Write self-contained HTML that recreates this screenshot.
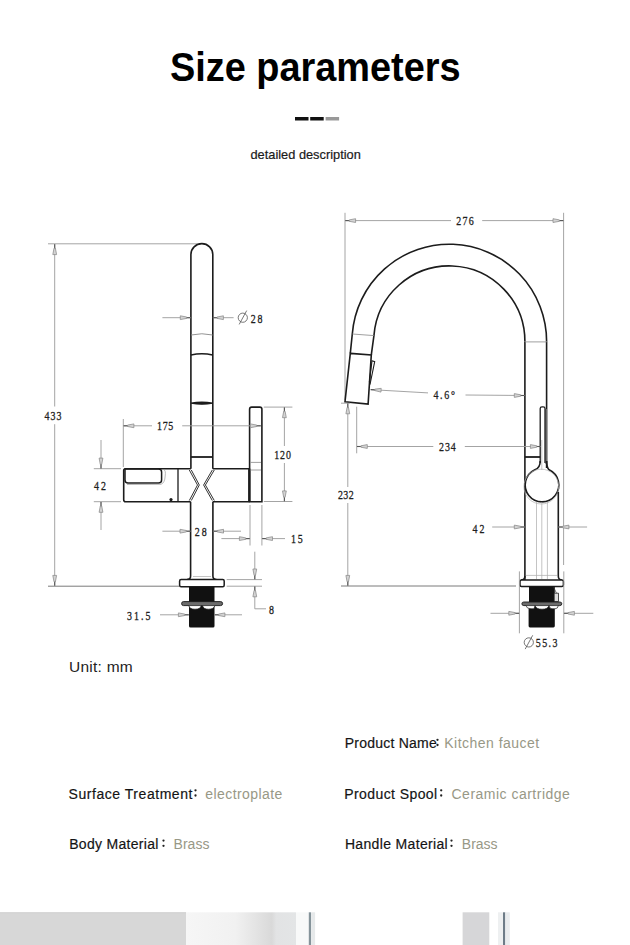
<!DOCTYPE html>
<html><head><meta charset="utf-8">
<style>
html,body{margin:0;padding:0;background:#fff;}
body{width:630px;height:945px;position:relative;overflow:hidden;font-family:"Liberation Sans",sans-serif;}
.t{position:absolute;white-space:nowrap;line-height:1;}
#title{left:170px;top:46.7px;font-size:40px;font-weight:bold;color:#000;transform:scaleX(0.947);transform-origin:0 0;}
#desc{left:250.5px;top:149px;font-size:12.8px;color:#1a1a1a;-webkit-text-stroke:0.2px #1a1a1a;}
#unit{left:69px;top:658.6px;font-size:15.5px;color:#222;letter-spacing:0.25px;}
.lab{font-size:14px;color:#141414;-webkit-text-stroke:0.18px #141414;}
.val{font-size:14px;color:#989886;}
svg{position:absolute;left:0;top:0;}
</style></head><body>
<div class="t" id="title">Size parameters</div>
<div class="t" id="desc">detailed description</div>
<div class="t" id="unit">Unit: mm</div>
<div class="t lab" style="left:344.7px;top:735.6px;letter-spacing:0.23px">Product Name</div>
<div class="t val" style="left:444.3px;top:735.6px;letter-spacing:0.47px">Kitchen faucet</div>
<div class="t lab" style="left:68.6px;top:786.8px;letter-spacing:0.54px">Surface Treatment</div>
<div class="t val" style="left:205.3px;top:786.8px;letter-spacing:0.42px">electroplate</div>
<div class="t lab" style="left:344.3px;top:786.8px;letter-spacing:0.41px">Product Spool</div>
<div class="t val" style="left:451.5px;top:786.8px;letter-spacing:0.49px">Ceramic cartridge</div>
<div class="t lab" style="left:69.2px;top:836.9px;letter-spacing:0.3px">Body Material</div>
<div class="t val" style="left:173.6px;top:836.9px;">Brass</div>
<div class="t lab" style="left:344.9px;top:836.9px;letter-spacing:0.34px">Handle Material</div>
<div class="t val" style="left:461.8px;top:836.9px;">Brass</div>
<svg width="630" height="945" viewBox="0 0 630 945">
<g fill="#222">
<circle cx="437.5" cy="739.8" r="1.15"/><circle cx="437.5" cy="745" r="1.15"/>
<circle cx="195.5" cy="790.3" r="1.15"/><circle cx="195.5" cy="795.5" r="1.15"/>
<circle cx="441.2" cy="790.3" r="1.15"/><circle cx="441.2" cy="795.5" r="1.15"/>
<circle cx="163.5" cy="840.6" r="1.15"/><circle cx="163.5" cy="845.8" r="1.15"/>
<circle cx="451.5" cy="840.6" r="1.15"/><circle cx="451.5" cy="845.8" r="1.15"/>
</g>
<rect x="295" y="117" width="13.5" height="3.5" fill="#111"/>
<rect x="310.2" y="117" width="13.5" height="3.5" fill="#111"/>
<rect x="325.6" y="117" width="13.5" height="3.5" fill="#999"/>
<defs>
<linearGradient id="g1" x1="0" x2="1" y1="0" y2="0">
<stop offset="0" stop-color="#f6f6f6"/><stop offset="0.45" stop-color="#f1f1f1"/><stop offset="0.78" stop-color="#d9d9d9"/><stop offset="0.82" stop-color="#e2e3e4"/><stop offset="1" stop-color="#e3e5e6"/>
</linearGradient>
</defs>
<rect x="0" y="912.3" width="186" height="33" fill="#d7d7d7"/>
<rect x="0" y="912.3" width="186" height="1" fill="#d2d2d2"/>
<rect x="186" y="912.3" width="110" height="33" fill="url(#g1)"/>
<rect x="296" y="912.3" width="13" height="33" fill="#f8f9f9"/>
<rect x="308.8" y="912.3" width="2.2" height="33" fill="#85939a"/>
<rect x="311.1" y="912.3" width="4" height="33" fill="#e6e9ea"/>
<rect x="462.6" y="912.3" width="26.7" height="33" fill="#d6d6d8"/>
<rect x="498" y="912.3" width="5" height="33" fill="#eef0f1"/>
<rect x="503" y="912.3" width="2.3" height="33" fill="#6e7c88"/>
<rect x="505.3" y="912.3" width="4.5" height="33" fill="#e9ecee"/>
<line x1="48" y1="243.8" x2="197" y2="243.8" stroke="#9a9a9a" stroke-width="0.9" />
<line x1="54.7" y1="244" x2="54.7" y2="406.5" stroke="#9a9a9a" stroke-width="0.9" />
<line x1="54.7" y1="424.2" x2="54.7" y2="586" stroke="#9a9a9a" stroke-width="0.9" />
<g transform="translate(54.7,244) rotate(-90)"><path d="M-0.3,0 L-5,0" stroke="#555" stroke-width="1.1"/><path d="M-4.2,-0.7 L-10.6,-1.9 L-10.6,1.9 L-4.2,0.7 Z" fill="#d4d4d4" stroke="#8a8a8a" stroke-width="0.75"/></g>
<g transform="translate(54.7,586) rotate(90)"><path d="M-0.3,0 L-5,0" stroke="#555" stroke-width="1.1"/><path d="M-4.2,-0.7 L-10.6,-1.9 L-10.6,1.9 L-4.2,0.7 Z" fill="#d4d4d4" stroke="#8a8a8a" stroke-width="0.75"/></g>
<line x1="48" y1="586.2" x2="179" y2="586.2" stroke="#7a7a7a" stroke-width="1" />
<g transform="translate(44.4,419.9) scale(0.8,1)"><text x="0" y="0" font-family="Liberation Serif" font-size="12.4" fill="#1e1e1e" stroke="#1e1e1e" stroke-width="0.3" textLength="21.25" lengthAdjust="spacing">433</text></g>
<path d="M190.9,468.7 L190.9,254.6 A10.95,10.95 0 0 1 212.8,254.6 L212.8,468.7" fill="none" stroke="#1c1c1c" stroke-width="1.6"/>
<path d="M191,335 Q201.85,332.5 212.7,335" fill="none" stroke="#888" stroke-width="0.9"/>
<path d="M191,355 Q201.85,352.6 212.7,355" fill="none" stroke="#1c1c1c" stroke-width="1.6"/>
<path d="M191,403.2 Q201.85,401.3 212.7,403.2 Q201.85,405.2 191,403.2 Z" fill="#1c1c1c" stroke="#1c1c1c" stroke-width="1.3"/>
<line x1="190.9" y1="457" x2="212.8" y2="457" stroke="#1c1c1c" stroke-width="1.8" />
<path d="M190.9,468.7 L125.5,468.7 Q123.7,468.7 123.7,470.5 L123.7,499.7 Q123.7,501.7 125.7,501.7 L190.7,501.7" fill="none" stroke="#1c1c1c" stroke-width="1.6"/>
<path d="M212.8,468.7 L249.6,468.7 M212.8,501.7 L249.6,501.7" fill="none" stroke="#1c1c1c" stroke-width="1.6"/>
<path d="M125,469 L158.5,469 Q161.6,469 161.6,472 L161.6,480 Q161.6,483 158.5,483 L128,483 Q125,483 125,480 Z" fill="none" stroke="#1c1c1c" stroke-width="1.5"/>
<path d="M163.5,469.5 Q166,470 165.2,476 Q164.8,483 161,484.3 L127,484.5" fill="none" stroke="#999" stroke-width="0.7"/>
<line x1="178" y1="468.7" x2="178" y2="501.7" stroke="#1c1c1c" stroke-width="1.3" />
<circle cx="171" cy="499.6" r="1.6" fill="#1c1c1c"/>
<path d="M189.3,470 L197.5,485 L189.3,500.5 M191.3,470 L199.3,485 L191.3,500.5" fill="none" stroke="#333" stroke-width="1"/>
<path d="M214.3,470 L205.4,485 L214.3,500.5 M212.3,470 L203.6,485 L212.3,500.5" fill="none" stroke="#333" stroke-width="1"/>
<path d="M190.6,501.7 L190.6,576 Q190.6,579.6 187,579.6 M212.9,501.7 L212.9,576 Q212.9,579.6 216.5,579.6" fill="none" stroke="#1c1c1c" stroke-width="1.6"/>
<line x1="193" y1="576.5" x2="211" y2="576.5" stroke="#aaa" stroke-width="0.7" />
<rect x="179.6" y="579.6" width="44.6" height="7.1" rx="1.5" fill="#fff" stroke="#1c1c1c" stroke-width="1.5"/>
<path d="M189,587 L214.5,587 L214.5,626 Q214.5,627.5 213,627.5 L190.5,627.5 Q189,627.5 189,626 Z" fill="#111"/>
<path d="M183.5,601.6 L220.6,601.6 Q222.6,601.6 222.6,603.6 Q222.6,605.6 220.6,605.6 L183.5,605.6 Q181.6,605.6 181.6,603.6 Q181.6,601.6 183.5,601.6 Z" fill="#6c6c6c" stroke="#1a1a1a" stroke-width="0.9" stroke-linejoin="round"/>
<path d="M188.8,605.6 Q189.5,609.2 195,609.2 Q200.5,609.2 201.3,605.6 Z M202.5,605.6 Q203.3,609.2 208.5,609.2 Q214,609.2 214.8,605.6 Z" fill="#fff" stroke="#222" stroke-width="0.7"/>
<path d="M249.6,501.7 L249.6,409.2 Q249.6,407.1 251.7,407.1 L259.8,407.1 Q261.9,407.1 261.9,409.2 L261.9,501.7 Z" fill="none" stroke="#1c1c1c" stroke-width="1.6"/>
<line x1="249.3" y1="468.7" x2="249.3" y2="501.7" stroke="#1c1c1c" stroke-width="2.4" />
<line x1="250.5" y1="462.4" x2="261" y2="462.4" stroke="#888" stroke-width="0.8" />
<line x1="250.5" y1="470" x2="261" y2="470" stroke="#888" stroke-width="0.8" />
<line x1="123.3" y1="419" x2="123.3" y2="467" stroke="#9a9a9a" stroke-width="0.9" />
<line x1="123.3" y1="425.8" x2="152" y2="425.8" stroke="#9a9a9a" stroke-width="0.9" />
<line x1="182.2" y1="425.8" x2="261" y2="425.8" stroke="#9a9a9a" stroke-width="0.9" />
<g transform="translate(123.3,425.8) rotate(180)"><path d="M-0.3,0 L-5,0" stroke="#555" stroke-width="1.1"/><path d="M-4.2,-0.7 L-10.6,-1.9 L-10.6,1.9 L-4.2,0.7 Z" fill="#d4d4d4" stroke="#8a8a8a" stroke-width="0.75"/></g>
<g transform="translate(261,425.8) rotate(0)"><path d="M-0.3,0 L-5,0" stroke="#555" stroke-width="1.1"/><path d="M-4.2,-0.7 L-10.6,-1.9 L-10.6,1.9 L-4.2,0.7 Z" fill="#d4d4d4" stroke="#8a8a8a" stroke-width="0.75"/></g>
<g transform="translate(157.1,430.3) scale(0.8,1)"><text x="0" y="0" font-family="Liberation Serif" font-size="12.4" fill="#1e1e1e" stroke="#1e1e1e" stroke-width="0.3" textLength="20.13" lengthAdjust="spacing">175</text></g>
<line x1="93.8" y1="468.7" x2="121" y2="468.7" stroke="#9a9a9a" stroke-width="0.9" />
<line x1="93.8" y1="501.7" x2="121" y2="501.7" stroke="#9a9a9a" stroke-width="0.9" />
<line x1="101" y1="440" x2="101" y2="468.7" stroke="#9a9a9a" stroke-width="0.9" />
<line x1="101" y1="501.7" x2="101" y2="530" stroke="#9a9a9a" stroke-width="0.9" />
<g transform="translate(101,468.7) rotate(90)"><path d="M-0.3,0 L-5,0" stroke="#555" stroke-width="1.1"/><path d="M-4.2,-0.7 L-10.6,-1.9 L-10.6,1.9 L-4.2,0.7 Z" fill="#d4d4d4" stroke="#8a8a8a" stroke-width="0.75"/></g>
<g transform="translate(101,501.7) rotate(-90)"><path d="M-0.3,0 L-5,0" stroke="#555" stroke-width="1.1"/><path d="M-4.2,-0.7 L-10.6,-1.9 L-10.6,1.9 L-4.2,0.7 Z" fill="#d4d4d4" stroke="#8a8a8a" stroke-width="0.75"/></g>
<g transform="translate(94.1,489.5) scale(0.8,1)"><text x="0" y="0" font-family="Liberation Serif" font-size="12.4" fill="#1e1e1e" stroke="#1e1e1e" stroke-width="0.3" textLength="14.75" lengthAdjust="spacing">42</text></g>
<line x1="263.8" y1="407.1" x2="292.4" y2="407.1" stroke="#9a9a9a" stroke-width="0.9" />
<line x1="263.8" y1="501.5" x2="292.4" y2="501.5" stroke="#9a9a9a" stroke-width="0.9" />
<line x1="284.4" y1="407.1" x2="284.4" y2="446" stroke="#9a9a9a" stroke-width="0.9" />
<line x1="284.4" y1="463" x2="284.4" y2="501.5" stroke="#9a9a9a" stroke-width="0.9" />
<g transform="translate(284.4,407.1) rotate(-90)"><path d="M-0.3,0 L-5,0" stroke="#555" stroke-width="1.1"/><path d="M-4.2,-0.7 L-10.6,-1.9 L-10.6,1.9 L-4.2,0.7 Z" fill="#d4d4d4" stroke="#8a8a8a" stroke-width="0.75"/></g>
<g transform="translate(284.4,501.5) rotate(90)"><path d="M-0.3,0 L-5,0" stroke="#555" stroke-width="1.1"/><path d="M-4.2,-0.7 L-10.6,-1.9 L-10.6,1.9 L-4.2,0.7 Z" fill="#d4d4d4" stroke="#8a8a8a" stroke-width="0.75"/></g>
<g transform="translate(274.3,459) scale(0.8,1)"><text x="0" y="0" font-family="Liberation Serif" font-size="12.4" fill="#1e1e1e" stroke="#1e1e1e" stroke-width="0.3" textLength="20.75" lengthAdjust="spacing">120</text></g>
<line x1="162.4" y1="317.7" x2="190.9" y2="317.7" stroke="#9a9a9a" stroke-width="0.9" />
<line x1="212.8" y1="317.7" x2="233.6" y2="317.7" stroke="#9a9a9a" stroke-width="0.9" />
<g transform="translate(190.9,317.7) rotate(0)"><path d="M-0.3,0 L-5,0" stroke="#555" stroke-width="1.1"/><path d="M-4.2,-0.7 L-10.6,-1.9 L-10.6,1.9 L-4.2,0.7 Z" fill="#d4d4d4" stroke="#8a8a8a" stroke-width="0.75"/></g>
<g transform="translate(212.8,317.7) rotate(180)"><path d="M-0.3,0 L-5,0" stroke="#555" stroke-width="1.1"/><path d="M-4.2,-0.7 L-10.6,-1.9 L-10.6,1.9 L-4.2,0.7 Z" fill="#d4d4d4" stroke="#8a8a8a" stroke-width="0.75"/></g>
<circle cx="242.8" cy="317.7" r="4.6" fill="none" stroke="#555" stroke-width="0.8"/>
<line x1="239.20000000000002" y1="324.4" x2="246.70000000000002" y2="310.59999999999997" stroke="#555" stroke-width="0.8"/>
<g transform="translate(250.79999999999998,322.8) scale(0.8,1)"><text x="0" y="0" font-family="Liberation Serif" font-size="12.4" fill="#1e1e1e" stroke="#1e1e1e" stroke-width="0.3" textLength="14.50" lengthAdjust="spacing">28</text></g>
<line x1="162.4" y1="531.2" x2="190.6" y2="531.2" stroke="#9a9a9a" stroke-width="0.9" />
<line x1="212.9" y1="531.2" x2="241" y2="531.2" stroke="#9a9a9a" stroke-width="0.9" />
<g transform="translate(190.6,531.2) rotate(0)"><path d="M-0.3,0 L-5,0" stroke="#555" stroke-width="1.1"/><path d="M-4.2,-0.7 L-10.6,-1.9 L-10.6,1.9 L-4.2,0.7 Z" fill="#d4d4d4" stroke="#8a8a8a" stroke-width="0.75"/></g>
<g transform="translate(212.9,531.2) rotate(180)"><path d="M-0.3,0 L-5,0" stroke="#555" stroke-width="1.1"/><path d="M-4.2,-0.7 L-10.6,-1.9 L-10.6,1.9 L-4.2,0.7 Z" fill="#d4d4d4" stroke="#8a8a8a" stroke-width="0.75"/></g>
<g transform="translate(194.79999999999998,536) scale(0.8,1)"><text x="0" y="0" font-family="Liberation Serif" font-size="12.4" fill="#1e1e1e" stroke="#1e1e1e" stroke-width="0.3" textLength="15.00" lengthAdjust="spacing">28</text></g>
<line x1="250" y1="505" x2="250" y2="545.5" stroke="#9a9a9a" stroke-width="0.9" />
<line x1="261.9" y1="505" x2="261.9" y2="545.5" stroke="#9a9a9a" stroke-width="0.9" />
<line x1="221.4" y1="538.6" x2="250" y2="538.6" stroke="#9a9a9a" stroke-width="0.9" />
<line x1="261.9" y1="538.6" x2="285" y2="538.6" stroke="#9a9a9a" stroke-width="0.9" />
<g transform="translate(250,538.6) rotate(0)"><path d="M-0.3,0 L-5,0" stroke="#555" stroke-width="1.1"/><path d="M-4.2,-0.7 L-10.6,-1.9 L-10.6,1.9 L-4.2,0.7 Z" fill="#d4d4d4" stroke="#8a8a8a" stroke-width="0.75"/></g>
<g transform="translate(261.9,538.6) rotate(180)"><path d="M-0.3,0 L-5,0" stroke="#555" stroke-width="1.1"/><path d="M-4.2,-0.7 L-10.6,-1.9 L-10.6,1.9 L-4.2,0.7 Z" fill="#d4d4d4" stroke="#8a8a8a" stroke-width="0.75"/></g>
<g transform="translate(291.0,542.6) scale(0.8,1)"><text x="0" y="0" font-family="Liberation Serif" font-size="12.4" fill="#1e1e1e" stroke="#1e1e1e" stroke-width="0.3" textLength="14.75" lengthAdjust="spacing">15</text></g>
<line x1="226.7" y1="579.6" x2="262" y2="579.6" stroke="#9a9a9a" stroke-width="0.9" />
<line x1="226.7" y1="586.2" x2="262" y2="586.2" stroke="#9a9a9a" stroke-width="0.9" />
<line x1="254.8" y1="551.7" x2="254.8" y2="579.6" stroke="#9a9a9a" stroke-width="0.9" />
<line x1="254.8" y1="586.2" x2="254.8" y2="608.8" stroke="#9a9a9a" stroke-width="0.9" />
<line x1="254.8" y1="608.8" x2="266" y2="608.8" stroke="#9a9a9a" stroke-width="0.9" />
<g transform="translate(254.8,579.6) rotate(90)"><path d="M-0.3,0 L-5,0" stroke="#555" stroke-width="1.1"/><path d="M-4.2,-0.7 L-10.6,-1.9 L-10.6,1.9 L-4.2,0.7 Z" fill="#d4d4d4" stroke="#8a8a8a" stroke-width="0.75"/></g>
<g transform="translate(254.8,586.2) rotate(-90)"><path d="M-0.3,0 L-5,0" stroke="#555" stroke-width="1.1"/><path d="M-4.2,-0.7 L-10.6,-1.9 L-10.6,1.9 L-4.2,0.7 Z" fill="#d4d4d4" stroke="#8a8a8a" stroke-width="0.75"/></g>
<g transform="translate(269.1,614) scale(0.8,1)"><text x="0" y="0" font-family="Liberation Serif" font-size="12.4" fill="#1e1e1e" stroke="#1e1e1e" stroke-width="0.3" textLength="6.38" lengthAdjust="spacing">8</text></g>
<line x1="160" y1="614.8" x2="189" y2="614.8" stroke="#9a9a9a" stroke-width="0.9" />
<line x1="214.3" y1="614.8" x2="242" y2="614.8" stroke="#9a9a9a" stroke-width="0.9" />
<g transform="translate(189,614.8) rotate(0)"><path d="M-0.3,0 L-5,0" stroke="#555" stroke-width="1.1"/><path d="M-4.2,-0.7 L-10.6,-1.9 L-10.6,1.9 L-4.2,0.7 Z" fill="#d4d4d4" stroke="#8a8a8a" stroke-width="0.75"/></g>
<g transform="translate(214.3,614.8) rotate(180)"><path d="M-0.3,0 L-5,0" stroke="#555" stroke-width="1.1"/><path d="M-4.2,-0.7 L-10.6,-1.9 L-10.6,1.9 L-4.2,0.7 Z" fill="#d4d4d4" stroke="#8a8a8a" stroke-width="0.75"/></g>
<g transform="translate(127.1,619.9) scale(0.8,1)"><text x="0" y="0" font-family="Liberation Serif" font-size="12.4" fill="#1e1e1e" stroke="#1e1e1e" stroke-width="0.3" textLength="29.12" lengthAdjust="spacing">31.5</text></g>
<line x1="345" y1="212.8" x2="345" y2="400" stroke="#9a9a9a" stroke-width="0.9" />
<line x1="563.6" y1="212.8" x2="563.6" y2="565" stroke="#9a9a9a" stroke-width="0.9" />
<line x1="345" y1="220.6" x2="451" y2="220.6" stroke="#9a9a9a" stroke-width="0.9" />
<line x1="482.2" y1="220.6" x2="563.6" y2="220.6" stroke="#9a9a9a" stroke-width="0.9" />
<g transform="translate(345,220.6) rotate(180)"><path d="M-0.3,0 L-5,0" stroke="#555" stroke-width="1.1"/><path d="M-4.2,-0.7 L-10.6,-1.9 L-10.6,1.9 L-4.2,0.7 Z" fill="#d4d4d4" stroke="#8a8a8a" stroke-width="0.75"/></g>
<g transform="translate(563.6,220.6) rotate(0)"><path d="M-0.3,0 L-5,0" stroke="#555" stroke-width="1.1"/><path d="M-4.2,-0.7 L-10.6,-1.9 L-10.6,1.9 L-4.2,0.7 Z" fill="#d4d4d4" stroke="#8a8a8a" stroke-width="0.75"/></g>
<g transform="translate(456.3,225) scale(0.8,1)"><text x="0" y="0" font-family="Liberation Serif" font-size="12.4" fill="#1e1e1e" stroke="#1e1e1e" stroke-width="0.3" textLength="21.75" lengthAdjust="spacing">276</text></g>
<path d="M546.6,341.5 A97.3,97.3 0 0 0 352.29,334.0 L350.3,353.4" fill="none" stroke="#1c1c1c" stroke-width="1.6"/>
<path d="M524.9,341.5 A75.6,75.6 0 0 0 373.93,335.6 L371.3,354.9" fill="none" stroke="#1c1c1c" stroke-width="1.6"/>
<line x1="352.28948510599486" y1="334" x2="373.9305764915241" y2="335.6" stroke="#888" stroke-width="0.8" />
<path d="M350.3,353.4 L371.3,354.9 L368.1,404 L345,401.7 Z" fill="none" stroke="#1c1c1c" stroke-width="1.6"/>
<path d="M372,360.8 L374.7,361.6 L370.2,383.5 L369.4,382 Z" fill="none" stroke="#1c1c1c" stroke-width="1.1"/>
<line x1="524.9" y1="341.5" x2="524.9" y2="580" stroke="#1c1c1c" stroke-width="1.6" />
<line x1="546.6" y1="341.5" x2="546.6" y2="468" stroke="#1c1c1c" stroke-width="1.6" />
<line x1="524.9" y1="341.9" x2="546.6" y2="341.9" stroke="#888" stroke-width="0.8" />
<rect x="545" y="409" width="1.7" height="55" fill="#8a8a8a"/>
<path d="M540.2,463 L540.2,408.6 Q540.2,406.8 542,406.8 L543.2,406.8 Q545,406.8 545,408.6 L545,463" fill="none" stroke="#1c1c1c" stroke-width="1.3"/>
<line x1="524.9" y1="457" x2="540.2" y2="457" stroke="#1c1c1c" stroke-width="1.8" />
<path d="M540.2,461 Q540.2,468 534.9,469.8 A16.8,16.8 0 1 0 549.1,469.8 Q546.7,468 546.7,461" fill="none" stroke="#1c1c1c" stroke-width="1.6"/>
<circle cx="541.3" cy="486.6" r="17.4" fill="none" stroke="#b5b5b5" stroke-width="0.7"/>
<path d="M558.3,492 L558.3,576 Q558.3,580 562,580 M524.9,576 Q524.9,580 521,580" fill="none" stroke="#1c1c1c" stroke-width="1.6"/>
<line x1="526" y1="575.4" x2="557" y2="575.4" stroke="#aaa" stroke-width="0.7" />
<line x1="536.5" y1="502" x2="536.5" y2="579" stroke="#aaa" stroke-width="0.7" />
<line x1="541.8" y1="502" x2="541.8" y2="579" stroke="#aaa" stroke-width="0.7" />
<line x1="547.4" y1="502" x2="547.4" y2="579" stroke="#aaa" stroke-width="0.7" />
<line x1="541.8" y1="440" x2="541.8" y2="470" stroke="#aaa" stroke-width="0.7" />
<rect x="520" y="580" width="43.4" height="6.4" rx="1.5" fill="#fff" stroke="#1c1c1c" stroke-width="1.5"/>
<path d="M529,586.6 L554.8,586.6 L554.8,626 Q554.8,627.4 553.4,627.4 L530,627.4 Q528.6,627.4 528.6,626 L528.6,606 L529,606 Z" fill="#111"/>
<path d="M554.2,593.2 L558.5,593.2 L558.5,601.5 L554.2,601.5 Z" fill="#ddd" stroke="#222" stroke-width="0.8"/>
<path d="M553.5,587 L556.5,593.2" stroke="#333" stroke-width="0.7"/>
<path d="M523.8,602 L559.8,602 Q561.8,602 561.8,603.8 Q561.8,605.6 559.8,605.6 L523.8,605.6 Q521.9,605.6 521.9,603.8 Q521.9,602 523.8,602 Z" fill="#6c6c6c" stroke="#1a1a1a" stroke-width="0.9" stroke-linejoin="round"/>
<path d="M526,605.6 Q526.5,608.8 531,608.8 L534,608.8 Q535,605.6 535,605.6 Z M535,605.6 Q536,609.2 542,609.2 Q548,609.2 549,605.6 Z M549,605.6 Q549.5,608.8 552,608.8 L555,608.8 Q558,608.8 558.3,605.6 Z" fill="#fff" stroke="#222" stroke-width="0.7"/>
<path d="M370.5,389.6 L428,392.9" fill="none" stroke="#9a9a9a" stroke-width="0.9"/>
<path d="M465.5,395 L524.9,395.5" fill="none" stroke="#9a9a9a" stroke-width="0.9"/>
<g transform="translate(370.5,389.6) rotate(183.3)"><path d="M-0.3,0 L-5,0" stroke="#555" stroke-width="1.1"/><path d="M-4.2,-0.7 L-10.6,-1.9 L-10.6,1.9 L-4.2,0.7 Z" fill="#d4d4d4" stroke="#8a8a8a" stroke-width="0.75"/></g>
<g transform="translate(524.9,395.5) rotate(0)"><path d="M-0.3,0 L-5,0" stroke="#555" stroke-width="1.1"/><path d="M-4.2,-0.7 L-10.6,-1.9 L-10.6,1.9 L-4.2,0.7 Z" fill="#d4d4d4" stroke="#8a8a8a" stroke-width="0.75"/></g>
<g transform="translate(433.40000000000003,399.2) scale(0.8,1)"><text x="0" y="0" font-family="Liberation Serif" font-size="12.4" fill="#1e1e1e" stroke="#1e1e1e" stroke-width="0.3" textLength="27.00" lengthAdjust="spacing">4.6°</text></g>
<line x1="356.7" y1="406.7" x2="356.7" y2="453.3" stroke="#9a9a9a" stroke-width="0.9" />
<line x1="356.7" y1="446.5" x2="433.3" y2="446.5" stroke="#9a9a9a" stroke-width="0.9" />
<line x1="464.8" y1="446.5" x2="541" y2="446.5" stroke="#9a9a9a" stroke-width="0.9" />
<g transform="translate(356.7,446.5) rotate(180)"><path d="M-0.3,0 L-5,0" stroke="#555" stroke-width="1.1"/><path d="M-4.2,-0.7 L-10.6,-1.9 L-10.6,1.9 L-4.2,0.7 Z" fill="#d4d4d4" stroke="#8a8a8a" stroke-width="0.75"/></g>
<g transform="translate(541,446.5) rotate(0)"><path d="M-0.3,0 L-5,0" stroke="#555" stroke-width="1.1"/><path d="M-4.2,-0.7 L-10.6,-1.9 L-10.6,1.9 L-4.2,0.7 Z" fill="#d4d4d4" stroke="#8a8a8a" stroke-width="0.75"/></g>
<g transform="translate(439.0,450.8) scale(0.8,1)"><text x="0" y="0" font-family="Liberation Serif" font-size="12.4" fill="#1e1e1e" stroke="#1e1e1e" stroke-width="0.3" textLength="21.00" lengthAdjust="spacing">234</text></g>
<line x1="341" y1="403.2" x2="350" y2="403.2" stroke="#9a9a9a" stroke-width="0.9" />
<line x1="347.8" y1="403.2" x2="347.8" y2="487" stroke="#9a9a9a" stroke-width="0.9" />
<line x1="347.8" y1="503" x2="347.8" y2="586" stroke="#9a9a9a" stroke-width="0.9" />
<g transform="translate(347.8,403.2) rotate(-90)"><path d="M-0.3,0 L-5,0" stroke="#555" stroke-width="1.1"/><path d="M-4.2,-0.7 L-10.6,-1.9 L-10.6,1.9 L-4.2,0.7 Z" fill="#d4d4d4" stroke="#8a8a8a" stroke-width="0.75"/></g>
<g transform="translate(347.8,586) rotate(90)"><path d="M-0.3,0 L-5,0" stroke="#555" stroke-width="1.1"/><path d="M-4.2,-0.7 L-10.6,-1.9 L-10.6,1.9 L-4.2,0.7 Z" fill="#d4d4d4" stroke="#8a8a8a" stroke-width="0.75"/></g>
<line x1="341" y1="586" x2="516" y2="586" stroke="#7a7a7a" stroke-width="1" />
<g transform="translate(338.0,499.3) scale(0.8,1)"><text x="0" y="0" font-family="Liberation Serif" font-size="12.4" fill="#1e1e1e" stroke="#1e1e1e" stroke-width="0.3" textLength="19.63" lengthAdjust="spacing">232</text></g>
<line x1="492.2" y1="527" x2="524.9" y2="527" stroke="#9a9a9a" stroke-width="0.9" />
<line x1="558.3" y1="527" x2="587.1" y2="527" stroke="#9a9a9a" stroke-width="0.9" />
<g transform="translate(524.9,527) rotate(0)"><path d="M-0.3,0 L-5,0" stroke="#555" stroke-width="1.1"/><path d="M-4.2,-0.7 L-10.6,-1.9 L-10.6,1.9 L-4.2,0.7 Z" fill="#d4d4d4" stroke="#8a8a8a" stroke-width="0.75"/></g>
<g transform="translate(558.3,527) rotate(180)"><path d="M-0.3,0 L-5,0" stroke="#555" stroke-width="1.1"/><path d="M-4.2,-0.7 L-10.6,-1.9 L-10.6,1.9 L-4.2,0.7 Z" fill="#d4d4d4" stroke="#8a8a8a" stroke-width="0.75"/></g>
<g transform="translate(472.5,532.7) scale(0.8,1)"><text x="0" y="0" font-family="Liberation Serif" font-size="12.4" fill="#1e1e1e" stroke="#1e1e1e" stroke-width="0.3" textLength="14.88" lengthAdjust="spacing">42</text></g>
<line x1="519.4" y1="571.4" x2="519.4" y2="633.3" stroke="#9a9a9a" stroke-width="0.9" />
<line x1="563.8" y1="571.4" x2="563.8" y2="633.3" stroke="#9a9a9a" stroke-width="0.9" />
<line x1="490.5" y1="613.3" x2="519.4" y2="613.3" stroke="#9a9a9a" stroke-width="0.9" />
<line x1="563.8" y1="613.3" x2="593.3" y2="613.3" stroke="#9a9a9a" stroke-width="0.9" />
<g transform="translate(519.4,613.3) rotate(0)"><path d="M-0.3,0 L-5,0" stroke="#555" stroke-width="1.1"/><path d="M-4.2,-0.7 L-10.6,-1.9 L-10.6,1.9 L-4.2,0.7 Z" fill="#d4d4d4" stroke="#8a8a8a" stroke-width="0.75"/></g>
<g transform="translate(563.8,613.3) rotate(180)"><path d="M-0.3,0 L-5,0" stroke="#555" stroke-width="1.1"/><path d="M-4.2,-0.7 L-10.6,-1.9 L-10.6,1.9 L-4.2,0.7 Z" fill="#d4d4d4" stroke="#8a8a8a" stroke-width="0.75"/></g>
<circle cx="528.8" cy="642.4" r="4.6" fill="none" stroke="#555" stroke-width="0.8"/>
<line x1="525.1999999999999" y1="649.1" x2="532.6999999999999" y2="635.3" stroke="#555" stroke-width="0.8"/>
<g transform="translate(535.8000000000001,647.2) scale(0.8,1)"><text x="0" y="0" font-family="Liberation Serif" font-size="12.4" fill="#1e1e1e" stroke="#1e1e1e" stroke-width="0.3" textLength="27.12" lengthAdjust="spacing">55.3</text></g>
</svg>
</body></html>
